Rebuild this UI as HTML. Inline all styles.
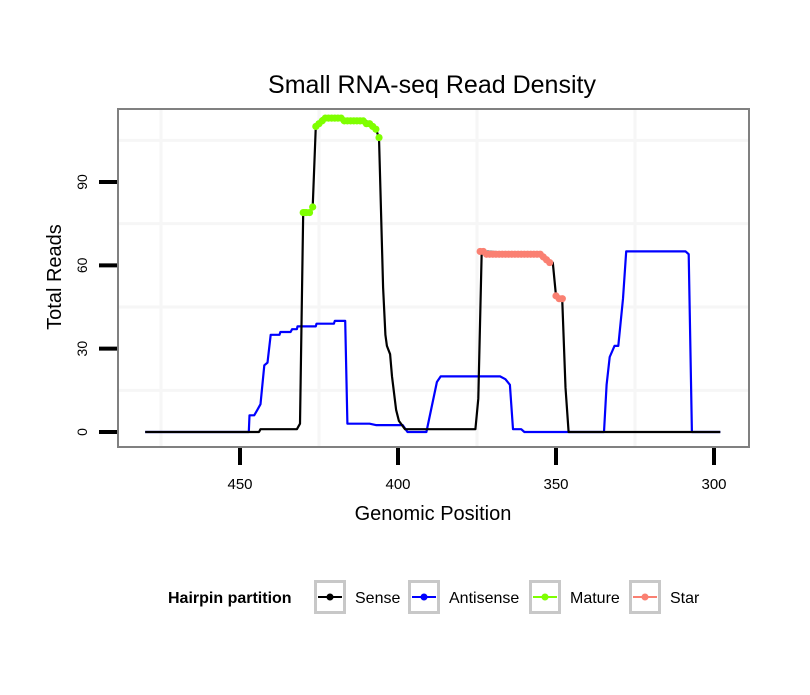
<!DOCTYPE html>
<html><head><meta charset="utf-8"><style>
body{margin:0;background:#fff}
svg text{font-family:"Liberation Sans",sans-serif}
</style></head><body>
<svg id="chart" width="810" height="690" viewBox="0 0 810 690" xmlns="http://www.w3.org/2000/svg">
<rect width="810" height="690" fill="#fff"/>
<text x="432" y="93" font-size="25" text-anchor="middle">Small RNA-seq Read Density</text>
<g id="grid"></g>
<g id="series"></g>
<rect x="118" y="109" width="631" height="338" fill="none" stroke="#808080" stroke-width="2"/>
<g id="axes"></g>
<text x="433" y="520" font-size="20" text-anchor="middle">Genomic Position</text>
<text transform="translate(61,277) rotate(-90)" font-size="20" text-anchor="middle">Total Reads</text>
<g>
<text x="168" y="603" font-size="16" font-weight="bold">Hairpin partition</text>
<g id="legend"></g>
</g>
</svg>
<script>
const xTicks=[450,400,350,300];
const yTicks=[0,30,60,90];
const sensePos=[480,444,443.5,432,431,430,429,428,427,426,425,424,418,417,410,409,408,407,406,404.7,404,403.5,402.5,401.9,400.6,399.7,397.8,375.5,374.6,373.5,356,355,354,353,351,350,349,348,347,346,298];
const senseVal=[0,0,1,1,3,79,79,79,81,110,111,113,113,112,112,111,110,109,106,52,35,31,28,20,8,4,1,1,12,65,64,64,63,62,61,49,48,47,16,0,0];
const antiPos=[480,447.2,447,445.5,444.5,443.5,442.3,441.3,440.3,437.5,437.2,434,433.5,432,431.8,426,425.8,420.3,420,416.7,416,409,407,398.5,397,393,391,387.7,386.5,367.7,366,364.6,363.6,361,360,334.8,334,333,331.5,330.3,328.8,327.8,309,308,307,298];
const antiVal=[0,0,6,6,8,10,24,25,35,35,36,36,37,37,38,38,39,39,40,40,3,3,2.5,2.5,0,0,0,18,20,20,19,17,1,1,0,0,17,27,31,31,48,65,65,64,0,0];
const maturePos=[430,429.5,429,428,427,426,425,424,423,422,421,420,419,418,417,416,415,414,413,412,411,410,409,408,407,406];
const matureVal=[79,79,79,79,81,110,111,112,113,113,113,113,113,113,112,112,112,112,112,112,112,111,111,110,109,106];
const starPos=[374,373,372,371,370,369,368,367,366,365,364,363,362,361,360,359,358,357,356,355,354,353,352,350,349,348];
const starVal=[65,65,64,64,64,64,64,64,64,64,64,64,64,64,64,64,64,64,64,64,63,62,61,49,48,48];
const legendLabels=["Sense","Antisense","Mature","Star"];
const legendColors=["#000000","#0000ff","#7fff00","#fa8072"];
const NS="http://www.w3.org/2000/svg";
function X(v){return 240+(450-v)*3.16;}
function Y(v){return 432-v*2.7778;}
function mk(t,a,p){const e=document.createElementNS(NS,t);for(const k in a)e.setAttribute(k,a[k]);p.appendChild(e);return e;}
const grid=document.getElementById('grid');
[475,425,375,325].forEach(v=>{const l=mk('line',{x1:X(v),x2:X(v),y1:110,y2:446,stroke:'#f6f6f6','stroke-width':3},grid);

});
[15,45,75,105].forEach(v=>{const l=mk('line',{x1:119,x2:748,y1:Y(v),y2:Y(v),stroke:'#f6f6f6','stroke-width':3},grid);

});
const axes=document.getElementById('axes');
xTicks.forEach(v=>{const t=mk('line',{x1:X(v),x2:X(v),y1:448,y2:465,stroke:'#000','stroke-width':4},axes);


const tx=mk('text',{x:X(v),y:489,'font-size':15,'text-anchor':'middle'},axes);tx.textContent=v;

});
yTicks.forEach(v=>{const t=mk('line',{x1:99,x2:117,y1:Y(v),y2:Y(v),stroke:'#000','stroke-width':4},axes);


const tx=mk('text',{transform:`translate(87,${Y(v)}) rotate(-90)`,'font-size':14,'text-anchor':'middle'},axes);tx.textContent=v;

});
const ser=document.getElementById('series');
function line(pos,val,color,name){const d=pos.map((p,i)=>(i?'L':'M')+X(p).toFixed(1)+','+Y(val[i]).toFixed(1)).join('');
const e=mk('path',{d:d,fill:'none',stroke:color,'stroke-width':2.2,'stroke-linejoin':'round'},ser);

}
line(antiPos,antiVal,'#0000ff','antisense-line');
line(sensePos,senseVal,'#000000','sense-line');
function pts(pos,val,color,name){pos.forEach((p,i)=>{const c=mk('circle',{cx:X(p),cy:Y(val[i]),r:3.6,fill:color},ser);

});}
pts(maturePos,matureVal,'#7fff00','mature-point');
pts(starPos,starVal,'#fa8072','star-point');
const lg=document.getElementById('legend');
const boxX=[314,408,529,629];
legendLabels.forEach((lab,i)=>{const g=mk('g',{},lg);


mk('rect',{x:boxX[i]+1.5,y:581.5,width:29,height:31,fill:'#fff',stroke:'#c8c8c8','stroke-width':3},g);
mk('line',{x1:boxX[i]+4,x2:boxX[i]+28,y1:597,y2:597,stroke:legendColors[i],'stroke-width':2},g);
mk('circle',{cx:boxX[i]+16,cy:597,r:3.5,fill:legendColors[i]},g);
const t=mk('text',{x:boxX[i]+41,y:603,'font-size':16},g);t.textContent=lab;});
</script>
</body></html>
